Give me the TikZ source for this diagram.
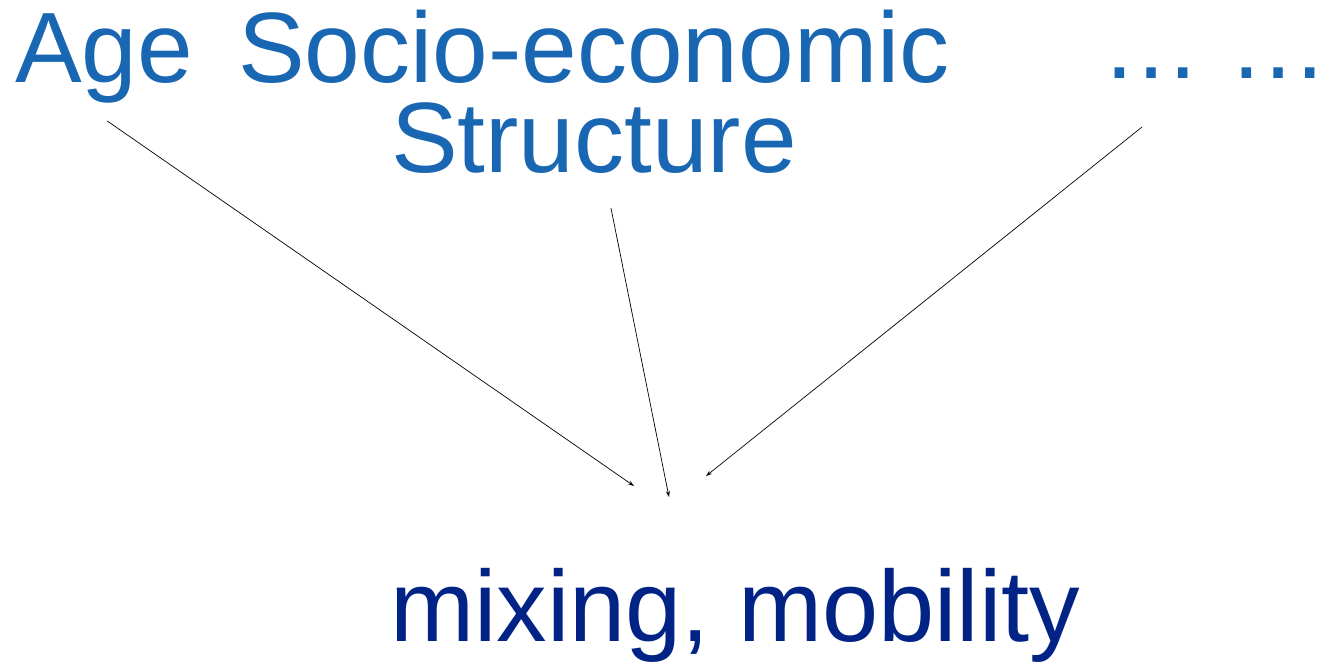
\documentclass[tikz,border=0pt]{standalone}
\usepackage{fontspec}
\setmainfont{Liberation Sans}
\usepackage{xcolor}
\usepackage{tikz}
\usetikzlibrary{arrows.meta, positioning, calc}

\definecolor{factorblue}{RGB}{25,102,178}
\definecolor{outnavy}{RGB}{0,35,133}

\begin{document}
\begin{tikzpicture}[x=1pt, y=-1pt,
  factor/.style={inner sep=0pt, text=factorblue, font=\fontsize{100}{90}\selectfont},
  outcome/.style={inner sep=0pt, text=outnavy, font=\fontsize{101}{90}\selectfont},
  arrow/.style={-{Stealth[length=6pt, width=4pt]}, line width=0.7pt, black}
]
  \useasboundingbox (0,0) rectangle (1320,664);

  \node[factor, anchor=base west] (age) at (15,82) {Age};
  \node[factor, align=center, anchor=base] (socio) at (594,172) {Socio-economic\\Structure};
  \node[factor, anchor=base west] (dots) at (1101,78) {\dots\ \dots};
  \node[outcome, anchor=base west] (mix) at (390,641) {mixing, mobility};

  \coordinate (ageTip)   at (634,486);
  \coordinate (socioTip) at (669,497);
  \coordinate (dotsTip)  at (706,476);

  \draw[arrow] ([xshift=3pt, yshift=-18pt]age.south) -- (ageTip);
  \draw[arrow] ([xshift=17pt, yshift=-35pt]socio.south) -- (socioTip);
  \draw[arrow] ([xshift=41pt, yshift=-49pt]dots.base west) -- (dotsTip);
\end{tikzpicture}
\end{document}
